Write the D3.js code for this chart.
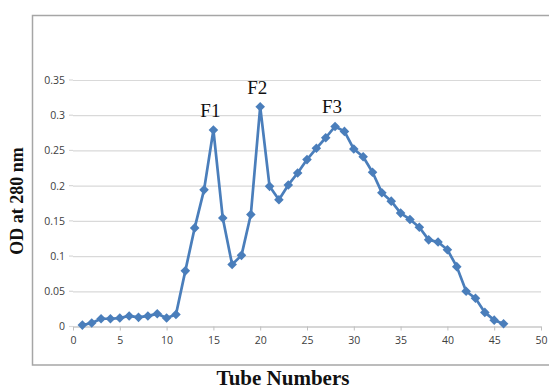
<!DOCTYPE html>
<html>
<head>
<meta charset="utf-8">
<script src="https://cdn.jsdelivr.net/npm/d3@7"></script>
<style>
  body { margin: 0; background: #fff; }
  svg { display: block; }
</style>
</head>
<body>
<div id="chart"></div>
<script>
// tube number vs optical density
var tubes = d3.range(1, 47);
var od = [0.002, 0.005, 0.011, 0.011, 0.012, 0.015, 0.013, 0.015, 0.018, 0.012,
  0.017, 0.079, 0.14, 0.194, 0.279, 0.154, 0.088, 0.101, 0.159, 0.312,
  0.199, 0.18, 0.201, 0.218, 0.237, 0.253, 0.268, 0.284, 0.277, 0.252,
  0.241, 0.219, 0.19, 0.178, 0.161, 0.152, 0.141, 0.123, 0.12, 0.109,
  0.085, 0.05, 0.04, 0.02, 0.009, 0.004];
var xTicks = [0, 5, 10, 15, 20, 25, 30, 35, 40, 45, 50];
var yTicks = [0, 0.05, 0.1, 0.15, 0.2, 0.25, 0.3, 0.35];
var peaks = [{ label: "F1", tube: 15 }, { label: "F2", tube: 20 }, { label: "F3", tube: 28 }];

var width = 549, height = 387;
var svg = d3.select("#chart").append("svg")
  .attr("width", width)
  .attr("height", height);

var x = d3.scaleLinear().domain([0, 50]).range([73, 541]);
var y = d3.scaleLinear().domain([0, 0.35]).range([326.5, 80]);

// chart frame
svg.append("rect")
  .attr("x", 32.5).attr("y", 15.5)
  .attr("width", 540).attr("height", 349.5)
  .attr("fill", "none")
  .attr("stroke", "#a6a6a6")
  .attr("stroke-width", 1.5);

// gridlines + y labels
svg.append("g")
  .attr("transform", "translate(" + x(0) + ",0)")
  .call(d3.axisLeft(y).tickValues(yTicks).tickSize(-(x(50) - x(0))).tickPadding(8)
    .tickFormat(function (d) { return d === 0 ? "0" : d3.format("")(+d.toFixed(2)); }))
  .call(function (g) {
    g.select(".domain").remove();
    g.selectAll(".tick line").attr("stroke", "#d9d9d9").attr("stroke-width", 1.2);
    g.selectAll(".tick text").attr("fill", "#404040")
      .style("font-family", "'Open Sans', sans-serif").style("font-size", "10.5px");
  });

// small outer ticks on the y axis
svg.append("g").selectAll("line")
  .data(yTicks).enter().append("line")
  .attr("x1", x(0) - 4).attr("x2", x(0))
  .attr("y1", function (d) { return y(d); })
  .attr("y2", function (d) { return y(d); })
  .attr("stroke", "#d9d9d9").attr("stroke-width", 1.2);

// x axis
svg.append("g")
  .attr("transform", "translate(0," + y(0) + ")")
  .call(d3.axisBottom(x).tickValues(xTicks).tickSize(4).tickPadding(6).tickSizeOuter(0))
  .call(function (g) {
    g.select(".domain").attr("stroke", "#bfbfbf").attr("stroke-width", 1.2);
    g.selectAll(".tick line").attr("stroke", "#bfbfbf");
    g.selectAll(".tick text").attr("fill", "#404040")
      .style("font-family", "'Open Sans', sans-serif").style("font-size", "10.5px");
  });

// the curve
var line = d3.line()
  .x(function (d, i) { return x(tubes[i]); })
  .y(function (d) { return y(d); });

svg.append("path")
  .datum(od)
  .attr("fill", "none")
  .attr("stroke", "#4a7ebb")
  .attr("stroke-width", 2.7)
  .attr("stroke-linejoin", "round")
  .attr("d", line);

svg.append("g").selectAll("path")
  .data(od).enter().append("path")
  .attr("d", d3.symbol().type(d3.symbolSquare).size(46))
  .attr("transform", function (d, i) {
    return "translate(" + x(tubes[i]) + "," + y(d) + ") rotate(45)";
  })
  .attr("fill", "#4a7ebb");

// peak labels
svg.append("g").selectAll("text")
  .data(peaks).enter().append("text")
  .attr("x", function (d) { return x(d.tube) - 3; })
  .attr("y", function (d) { return y(od[d.tube - 1]) - 13; })
  .attr("text-anchor", "middle")
  .style("font-family", "'Liberation Serif', 'Times New Roman', serif")
  .style("font-size", "19px")
  .attr("fill", "#111")
  .text(function (d) { return d.label; });

// axis titles
svg.append("text")
  .attr("transform", "translate(23,201) rotate(-90)")
  .attr("text-anchor", "middle")
  .style("font-family", "'Liberation Serif', 'Times New Roman', serif")
  .style("font-size", "18px")
  .style("font-weight", "bold")
  .attr("fill", "#111")
  .text("OD at 280 nm");

svg.append("text")
  .attr("x", 283).attr("y", 385)
  .attr("text-anchor", "middle")
  .style("font-family", "'Liberation Serif', 'Times New Roman', serif")
  .style("font-size", "21px")
  .style("font-weight", "bold")
  .attr("fill", "#111")
  .text("Tube Numbers");
</script>
</body>
</html>
